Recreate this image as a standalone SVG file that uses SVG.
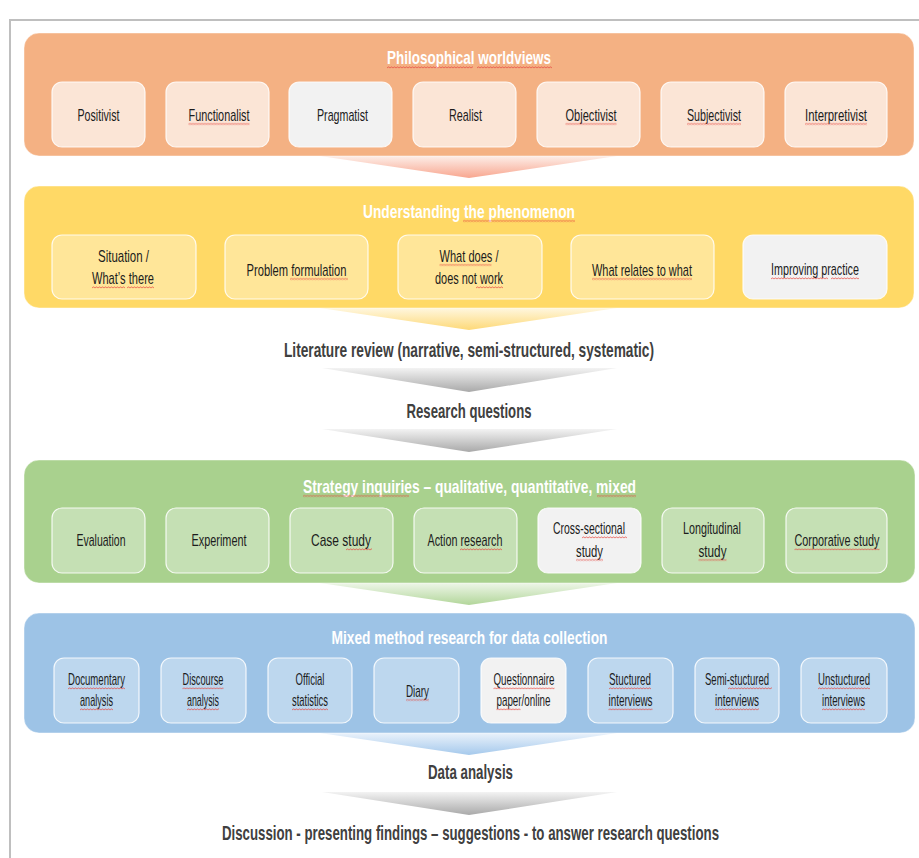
<svg xmlns="http://www.w3.org/2000/svg" width="919" height="858" viewBox="0 0 919 858">
  <defs>
    <style>
      .tx{font-family:"Liberation Sans",Arial,sans-serif;text-anchor:middle}
      .lbl{font-size:17px;fill:#1c1c1c}
      .ttl{font-size:19px;font-weight:bold;fill:#ffffff}
      .flow{font-size:21px;font-weight:bold;fill:#404040}
      .band{stroke:#ffffff;stroke-opacity:.45;stroke-width:1}
      .box{stroke:#ffffff;stroke-opacity:.85;stroke-width:1.2}
      .o{fill:#F4B183}.ob{fill:#FBE5D6}
      .y{fill:#FFD966}.yb{fill:#FFE699}
      .g{fill:#A9D18E}.gb{fill:#C5E0B4}
      .b{fill:#9DC3E6}.bb{fill:#BDD7EE}
      .hl{fill:#F2F2F2}
      .sq{fill:url(#wave)}
    </style>
    <!-- red wavy underline -->
    <pattern id="wave" width="3" height="3" patternUnits="userSpaceOnUse">
      <path d="M0,2.3 L1.5,0.7 L3,2.3" fill="none" stroke="#e5453d" stroke-width="0.8"/>
    </pattern>
    <linearGradient id="gO" x1="0" y1="0" x2="0" y2="1"><stop offset="0" stop-color="#FDEEE8"/><stop offset="1" stop-color="#F8A68F"/></linearGradient>
    <linearGradient id="gY" x1="0" y1="0" x2="0" y2="1"><stop offset="0" stop-color="#FFF7DF"/><stop offset="1" stop-color="#FDD978"/></linearGradient>
    <linearGradient id="gG" x1="0" y1="0" x2="0" y2="1"><stop offset="0" stop-color="#EEF6E8"/><stop offset="1" stop-color="#B2D69A"/></linearGradient>
    <linearGradient id="gB" x1="0" y1="0" x2="0" y2="1"><stop offset="0" stop-color="#EAF2FB"/><stop offset="1" stop-color="#A5C9EC"/></linearGradient>
    <linearGradient id="gK" x1="0" y1="0" x2="0" y2="1"><stop offset="0" stop-color="#F3F3F3"/><stop offset="1" stop-color="#A9A9A9"/></linearGradient>
  </defs>

  <rect width="919" height="858" fill="#ffffff"/>
  <!-- page frame -->
  <polyline points="10,858 10,20 919,20" fill="none" stroke="#BFBFBF" stroke-width="2"/>

  <!-- downward arrows between stages -->
  <g id="connectors">
    <polygon points="320,156 617,156 469,178" fill="url(#gO)"/>
    <polygon points="320,308 617,308 469,330" fill="url(#gY)"/>
    <polygon points="322,368 617,368 469,392" fill="url(#gK)"/>
    <polygon points="322,429 617,429 469,452" fill="url(#gK)"/>
    <polygon points="320,583 617,583 469,605" fill="url(#gG)"/>
    <polygon points="320,733 617,733 469,755" fill="url(#gB)"/>
    <polygon points="322,792 617,792 469,815" fill="url(#gK)"/>
  </g>

  <!-- Stage 1: worldviews -->
  <g id="worldviews">
    <rect class="band o" x="24" y="33" width="890" height="123" rx="15"/>
    <text class="tx ttl" x="469" y="64" textLength="164" lengthAdjust="spacingAndGlyphs">Philosophical worldviews</text>
    <rect class="sq" width="86" height="3" transform="translate(387,66)"/>
    <rect class="sq" width="75" height="3" transform="translate(477,66)"/>
  </g>
  <g id="positivist">
    <rect class="box ob" x="52" y="82" width="93" height="65" rx="10"/>
    <text class="tx lbl" x="98.5" y="120.5" textLength="42" lengthAdjust="spacingAndGlyphs">Positivist</text>
  </g>
  <g id="functionalist">
    <rect class="box ob" x="166" y="82" width="103" height="65" rx="10"/>
    <text class="tx lbl" x="219" y="120.5" textLength="61" lengthAdjust="spacingAndGlyphs">Functionalist</text>
    <rect class="sq" width="61" height="3" transform="translate(188.5,122.5)"/>
  </g>
  <g id="pragmatist">
    <rect class="box hl" x="289" y="82" width="103" height="65" rx="10"/>
    <text class="tx lbl" x="342.5" y="120.5" textLength="51" lengthAdjust="spacingAndGlyphs">Pragmatist</text>
  </g>
  <g id="realist">
    <rect class="box ob" x="413" y="82" width="103" height="65" rx="10"/>
    <text class="tx lbl" x="465.5" y="120.5" textLength="33" lengthAdjust="spacingAndGlyphs">Realist</text>
  </g>
  <g id="objectivist">
    <rect class="box ob" x="537" y="82" width="103" height="65" rx="10"/>
    <text class="tx lbl" x="591" y="120.5" textLength="51" lengthAdjust="spacingAndGlyphs">Objectivist</text>
    <rect class="sq" width="51" height="3" transform="translate(565.5,122.5)"/>
  </g>
  <g id="subjectivist">
    <rect class="box ob" x="661" y="82" width="103" height="65" rx="10"/>
    <text class="tx lbl" x="714" y="120.5" textLength="54" lengthAdjust="spacingAndGlyphs">Subjectivist</text>
    <rect class="sq" width="54" height="3" transform="translate(687,122.5)"/>
  </g>
  <g id="interpretivist">
    <rect class="box ob" x="785" y="82" width="102" height="65" rx="10"/>
    <text class="tx lbl" x="836" y="120.5" textLength="62" lengthAdjust="spacingAndGlyphs">Interpretivist</text>
    <rect class="sq" width="62" height="3" transform="translate(805,122.5)"/>
  </g>

  <!-- Stage 2: understanding -->
  <g id="understanding">
    <rect class="band y" x="24" y="186" width="890" height="122" rx="15"/>
    <text class="tx ttl" x="469" y="217.5" textLength="212" lengthAdjust="spacingAndGlyphs">Understanding the phenomenon</text>
    <rect class="sq" width="112" height="3" transform="translate(463,219.5)"/>
  </g>
  <g id="situation">
    <rect class="box yb" x="52" y="235" width="144" height="64" rx="10"/>
    <text class="tx lbl" x="123.5" y="261.5" textLength="51" lengthAdjust="spacingAndGlyphs">Situation /</text>
    <text class="tx lbl" x="123" y="284" textLength="62" lengthAdjust="spacingAndGlyphs">What’s there</text>
    <rect class="sq" width="33" height="3" transform="translate(92,286)"/>
    <rect class="sq" width="27" height="3" transform="translate(127,286)"/>
  </g>
  <g id="problem">
    <rect class="box yb" x="225" y="235" width="143" height="64" rx="10"/>
    <text class="tx lbl" x="296.5" y="275.5" textLength="100" lengthAdjust="spacingAndGlyphs">Problem formulation</text>
    <rect class="sq" width="58" height="3" transform="translate(290,277.5)"/>
  </g>
  <g id="works">
    <rect class="box yb" x="398" y="235" width="144" height="64" rx="10"/>
    <text class="tx lbl" x="469" y="261.5" textLength="59" lengthAdjust="spacingAndGlyphs">What does /</text>
    <text class="tx lbl" x="469" y="284" textLength="68" lengthAdjust="spacingAndGlyphs">does not work</text>
    <rect class="sq" width="52" height="3" transform="translate(439.5,263.5)"/>
    <rect class="sq" width="27" height="3" transform="translate(476,286)"/>
  </g>
  <g id="relates">
    <rect class="box yb" x="571" y="235" width="143" height="64" rx="10"/>
    <text class="tx lbl" x="642" y="275.5" textLength="100" lengthAdjust="spacingAndGlyphs">What relates to what</text>
    <rect class="sq" width="100" height="3" transform="translate(592,277.5)"/>
  </g>
  <g id="improving">
    <rect class="box hl" x="743" y="235" width="144" height="64" rx="10"/>
    <text class="tx lbl" x="815" y="275" textLength="88" lengthAdjust="spacingAndGlyphs">Improving practice</text>
    <rect class="sq" width="57" height="3" transform="translate(771,277)"/>
    <rect class="sq" width="28" height="3" transform="translate(831,277)"/>
  </g>

  <!-- Stage 3 and 4: literature and questions -->
  <g id="literature">
    <text class="tx flow" x="469" y="357" textLength="370" lengthAdjust="spacingAndGlyphs">Literature review (narrative, semi-structured, systematic)</text>
  </g>
  <g id="questions">
    <text class="tx flow" x="469" y="418" textLength="125" lengthAdjust="spacingAndGlyphs">Research questions</text>
  </g>

  <!-- Stage 5: strategy -->
  <g id="strategy">
    <rect class="band g" x="24" y="460" width="891" height="123" rx="15"/>
    <text class="tx ttl" x="469.5" y="492.5" textLength="333" lengthAdjust="spacingAndGlyphs">Strategy inquiries – qualitative, quantitative, mixed</text>
    <rect class="sq" width="106" height="3" transform="translate(303,494.5)"/>
    <rect class="sq" width="39" height="3" transform="translate(597,494.5)"/>
  </g>
  <g id="evaluation">
    <rect class="box gb" x="52" y="508" width="93" height="65" rx="10"/>
    <text class="tx lbl" x="101" y="545.5" textLength="49" lengthAdjust="spacingAndGlyphs">Evaluation</text>
  </g>
  <g id="experiment">
    <rect class="box gb" x="166" y="508" width="103" height="65" rx="10"/>
    <text class="tx lbl" x="219" y="545.5" textLength="55" lengthAdjust="spacingAndGlyphs">Experiment</text>
  </g>
  <g id="case-study">
    <rect class="box gb" x="290" y="508" width="103" height="65" rx="10"/>
    <text class="tx lbl" x="341" y="545.5" textLength="60" lengthAdjust="spacingAndGlyphs">Case study</text>
    <rect class="sq" width="26" height="3" transform="translate(346,548)"/>
  </g>
  <g id="action-research">
    <rect class="box gb" x="414" y="508" width="103" height="65" rx="10"/>
    <text class="tx lbl" x="465" y="545.5" textLength="75" lengthAdjust="spacingAndGlyphs">Action research</text>
    <rect class="sq" width="42" height="3" transform="translate(460,548)"/>
  </g>
  <g id="cross-sectional">
    <rect class="box hl" x="538" y="508" width="103" height="65" rx="10"/>
    <text class="tx lbl" x="589" y="534" textLength="72" lengthAdjust="spacingAndGlyphs">Cross-sectional</text>
    <text class="tx lbl" x="589.5" y="556.5" textLength="27" lengthAdjust="spacingAndGlyphs">study</text>
    <rect class="sq" width="45" height="3" transform="translate(582,536)"/>
    <rect class="sq" width="27" height="3" transform="translate(576,558.5)"/>
  </g>
  <g id="longitudinal">
    <rect class="box gb" x="662" y="508" width="102" height="65" rx="10"/>
    <text class="tx lbl" x="712" y="534" textLength="58" lengthAdjust="spacingAndGlyphs">Longitudinal</text>
    <text class="tx lbl" x="712.5" y="556.5" textLength="28" lengthAdjust="spacingAndGlyphs">study</text>
    <rect class="sq" width="28" height="3" transform="translate(698.5,558.5)"/>
  </g>
  <g id="corporative">
    <rect class="box gb" x="786" y="508" width="101" height="65" rx="10"/>
    <text class="tx lbl" x="837" y="545.5" textLength="85" lengthAdjust="spacingAndGlyphs">Corporative study</text>
    <rect class="sq" width="85" height="3" transform="translate(794.5,548)"/>
  </g>

  <!-- Stage 6: data collection -->
  <g id="collection">
    <rect class="band b" x="24" y="613" width="891" height="120" rx="15"/>
    <text class="tx ttl" x="469.5" y="644" textLength="276" lengthAdjust="spacingAndGlyphs">Mixed method research for data collection</text>
  </g>
  <g id="documentary">
    <rect class="box bb" x="54" y="658" width="85" height="65" rx="10"/>
    <text class="tx lbl" x="96.5" y="685" textLength="57" lengthAdjust="spacingAndGlyphs">Documentary</text>
    <text class="tx lbl" x="96.5" y="706" textLength="33" lengthAdjust="spacingAndGlyphs">analysis</text>
    <rect class="sq" width="57" height="3" transform="translate(68,687)"/>
    <rect class="sq" width="33" height="3" transform="translate(80,708)"/>
  </g>
  <g id="discourse">
    <rect class="box bb" x="161" y="658" width="85" height="65" rx="10"/>
    <text class="tx lbl" x="203" y="685" textLength="41" lengthAdjust="spacingAndGlyphs">Discourse</text>
    <text class="tx lbl" x="203" y="706" textLength="32" lengthAdjust="spacingAndGlyphs">analysis</text>
    <rect class="sq" width="41" height="3" transform="translate(182.5,687)"/>
    <rect class="sq" width="32" height="3" transform="translate(187,708)"/>
  </g>
  <g id="official">
    <rect class="box bb" x="268" y="658" width="84" height="65" rx="10"/>
    <text class="tx lbl" x="310" y="685" textLength="29" lengthAdjust="spacingAndGlyphs">Official</text>
    <text class="tx lbl" x="310" y="706" textLength="36" lengthAdjust="spacingAndGlyphs">statistics</text>
    <rect class="sq" width="36" height="3" transform="translate(292,708)"/>
  </g>
  <g id="diary">
    <rect class="box bb" x="374" y="658" width="85" height="65" rx="10"/>
    <text class="tx lbl" x="417.5" y="696.5" textLength="23" lengthAdjust="spacingAndGlyphs">Diary</text>
    <rect class="sq" width="23" height="3" transform="translate(406,698.5)"/>
  </g>
  <g id="questionnaire">
    <rect class="box hl" x="481" y="658" width="85" height="65" rx="10"/>
    <text class="tx lbl" x="524" y="685" textLength="61" lengthAdjust="spacingAndGlyphs">Questionnaire</text>
    <text class="tx lbl" x="523.5" y="706" textLength="54" lengthAdjust="spacingAndGlyphs">paper/online</text>
    <rect class="sq" width="61" height="3" transform="translate(493.5,687)"/>
    <rect class="sq" width="24" height="3" transform="translate(496.5,708)"/>
  </g>
  <g id="structured">
    <rect class="box bb" x="588" y="658" width="85" height="65" rx="10"/>
    <text class="tx lbl" x="630" y="685" textLength="42" lengthAdjust="spacingAndGlyphs">Stuctured</text>
    <text class="tx lbl" x="630.5" y="706" textLength="44" lengthAdjust="spacingAndGlyphs">interviews</text>
    <rect class="sq" width="42" height="3" transform="translate(609,687)"/>
    <rect class="sq" width="44" height="3" transform="translate(608.5,708)"/>
  </g>
  <g id="semi-structured">
    <rect class="box bb" x="695" y="658" width="84" height="65" rx="10"/>
    <text class="tx lbl" x="737" y="685" textLength="64" lengthAdjust="spacingAndGlyphs">Semi-stuctured</text>
    <text class="tx lbl" x="737" y="706" textLength="44" lengthAdjust="spacingAndGlyphs">interviews</text>
    <rect class="sq" width="44" height="3" transform="translate(728,687)"/>
    <rect class="sq" width="44" height="3" transform="translate(715,708)"/>
  </g>
  <g id="unstructured">
    <rect class="box bb" x="801" y="658" width="86" height="65" rx="10"/>
    <text class="tx lbl" x="844" y="685" textLength="52" lengthAdjust="spacingAndGlyphs">Unstuctured</text>
    <text class="tx lbl" x="843.5" y="706" textLength="43" lengthAdjust="spacingAndGlyphs">interviews</text>
    <rect class="sq" width="52" height="3" transform="translate(818,687)"/>
    <rect class="sq" width="43" height="3" transform="translate(822,708)"/>
  </g>

  <!-- Stage 7 and 8: analysis and discussion -->
  <g id="analysis">
    <text class="tx flow" x="470.5" y="779" textLength="85" lengthAdjust="spacingAndGlyphs">Data analysis</text>
  </g>
  <g id="discussion">
    <text class="tx flow" x="470.5" y="840" font-size="20" textLength="497" lengthAdjust="spacingAndGlyphs">Discussion - presenting findings – suggestions - to answer research questions</text>
  </g>
</svg>
